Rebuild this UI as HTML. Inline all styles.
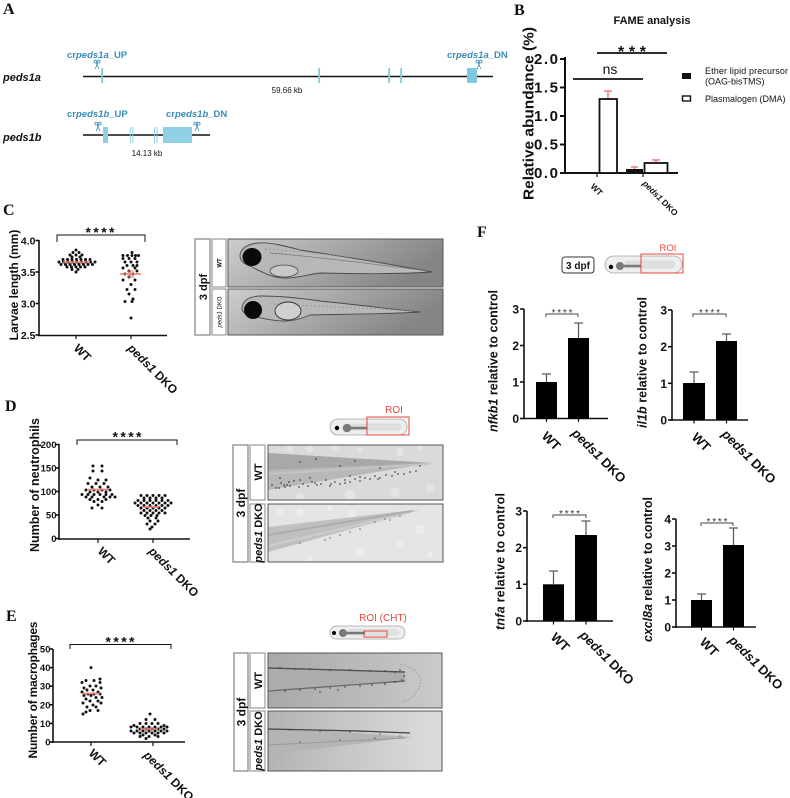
<!DOCTYPE html>
<html><head><meta charset="utf-8">
<style>
html,body{margin:0;padding:0;background:#fff;width:790px;height:798px;overflow:hidden}
svg{display:block}
text{font-family:"Liberation Sans",Arial,sans-serif;fill:#111}
.b{font-weight:bold}
.it{font-style:italic}
.L{font-family:"Liberation Serif",serif;font-weight:bold;font-size:16px}
.bl{fill:#3a8db6;font-weight:bold;font-size:9.5px}
.rd{fill:#e8453c}
</style></head><body>
<svg width="790" height="798" viewBox="0 0 790 798" xmlns="http://www.w3.org/2000/svg">
<defs>
 <g id="sc" fill="none" stroke="#3a8db6" stroke-width="0.8">
   <circle cx="-1.7" cy="1.6" r="1.4"/><circle cx="1.7" cy="1.6" r="1.4"/>
   <path d="M-0.9 2.8 L2 9 M0.9 2.8 L-2 9"/>
 </g>
 <linearGradient id="gc" x1="0" y1="0" x2="1" y2="0.3">
   <stop offset="0" stop-color="#cdcdcd"/><stop offset="0.5" stop-color="#a9a9a9"/><stop offset="1" stop-color="#858585"/>
 </linearGradient>
 <linearGradient id="ge1" x1="0" y1="0" x2="1" y2="0">
   <stop offset="0" stop-color="#a8a8a8"/><stop offset="0.6" stop-color="#bcbcbc"/><stop offset="1" stop-color="#cbcbcb"/>
 </linearGradient>
 <linearGradient id="ge2" x1="0" y1="0" x2="1" y2="0">
   <stop offset="0" stop-color="#b3b3b3"/><stop offset="0.6" stop-color="#cdcdcd"/><stop offset="1" stop-color="#dcdcdc"/>
 </linearGradient>
</defs>

<!-- Panel letters -->
<text class="L" x="3" y="14">A</text>
<text class="L" x="514" y="15">B</text>
<text class="L" x="3" y="215">C</text>
<text class="L" x="5" y="411">D</text>
<text class="L" x="6" y="621">E</text>
<text class="L" x="477" y="237">F</text>

<!-- ===== Panel A ===== -->
<text x="3" y="81" class="b it" font-size="11">peds1a</text>
<line x1="83" y1="76.5" x2="493" y2="76.5" stroke="#111" stroke-width="1.6"/>
<g fill="#7ec8e0">
 <rect x="101.3" y="68" width="1.8" height="15"/>
 <rect x="318.3" y="68" width="1.8" height="15"/>
 <rect x="388.3" y="68" width="1.8" height="15"/>
 <rect x="400.3" y="68" width="1.8" height="15"/>
 <rect x="467" y="68" width="10" height="15"/>
</g>
<text x="67" y="58" class="bl">cr<tspan class="it">peds1a</tspan>_UP</text>
<text x="447" y="58" class="bl">cr<tspan class="it">peds1a</tspan>_DN</text>
<use href="#sc" x="97" y="60"/>
<use href="#sc" x="479" y="60"/>
<text x="287" y="93" font-size="8" text-anchor="middle">59.66 kb</text>

<text x="3" y="141" class="b it" font-size="11">peds1b</text>
<line x1="83" y1="135" x2="210" y2="135" stroke="#111" stroke-width="1.6"/>
<g fill="#8fd0e4">
 <rect x="103" y="127" width="5" height="16"/>
 <rect x="129.8" y="127" width="1" height="16"/>
 <rect x="132.3" y="127" width="1" height="16"/>
 <rect x="154" y="127" width="1" height="16"/>
 <rect x="156.5" y="127" width="1" height="16"/>
 <rect x="163" y="127" width="29" height="16"/>
</g>
<text x="67" y="117" class="bl">cr<tspan class="it">peds1b</tspan>_UP</text>
<text x="166" y="117" class="bl">cr<tspan class="it">peds1b</tspan>_DN</text>
<use href="#sc" x="98" y="122"/>
<use href="#sc" x="197" y="122"/>
<text x="147" y="156" font-size="8" text-anchor="middle">14.13 kb</text>

<!-- ===== Panel B ===== -->
<text x="652" y="24" class="b" font-size="11" text-anchor="middle">FAME analysis</text>
<text transform="translate(533.5,113.5) rotate(-90)" class="b" font-size="15" text-anchor="middle" textLength="173" lengthAdjust="spacingAndGlyphs">Relative abundance (%)</text>
<g stroke="#111" stroke-width="2">
 <line x1="565" y1="57" x2="565" y2="174"/>
 <line x1="564" y1="173" x2="678" y2="173"/>
 <line x1="560" y1="59" x2="565" y2="59"/>
 <line x1="560" y1="87.5" x2="565" y2="87.5"/>
 <line x1="560" y1="116" x2="565" y2="116"/>
 <line x1="560" y1="144.5" x2="565" y2="144.5"/>
 <line x1="560" y1="173" x2="565" y2="173"/>
 <line x1="597" y1="173" x2="597" y2="177" stroke-width="1.2"/>
 <line x1="643" y1="173" x2="643" y2="177" stroke-width="1.2"/>
</g>
<g class="b" font-size="15" text-anchor="end">
 <text x="558" y="64" textLength="24">2.0</text>
 <text x="558" y="92.5" textLength="24">1.5</text>
 <text x="558" y="121" textLength="24">1.0</text>
 <text x="558" y="149.5" textLength="24">0.5</text>
 <text x="558" y="178" textLength="24">0.0</text>
</g>
<g stroke="#e4716b" stroke-width="1.3">
 <line x1="608" y1="91" x2="608" y2="99"/><line x1="604" y1="91" x2="612" y2="91"/>
 <line x1="634.5" y1="167" x2="634.5" y2="169"/><line x1="631" y1="167" x2="638" y2="167"/>
 <line x1="656" y1="160" x2="656" y2="163"/><line x1="652" y1="160" x2="660" y2="160"/>
</g>
<rect x="599.5" y="99" width="17.5" height="74" fill="#fff" stroke="#111" stroke-width="1.8"/>
<rect x="626" y="169" width="17" height="4" fill="#111"/>
<rect x="644.5" y="163" width="23" height="10" fill="#fff" stroke="#111" stroke-width="1.8"/>
<line x1="597" y1="53" x2="667" y2="53" stroke="#111" stroke-width="1.8"/>
<text x="632" y="57" class="b" font-size="16" text-anchor="middle" textLength="28">***</text>
<line x1="573" y1="79" x2="643" y2="79" stroke="#111" stroke-width="1.8"/>
<text x="610" y="74" font-size="14" text-anchor="middle">ns</text>
<rect x="682" y="73" width="9" height="6" fill="#111"/>
<text x="705" y="74" font-size="9" textLength="83">Ether lipid precursor</text>
<text x="705" y="84.5" font-size="9">(OAG-bisTMS)</text>
<rect x="682.5" y="96" width="8" height="5" fill="#fff" stroke="#111" stroke-width="1.4"/>
<text x="705" y="102" font-size="9">Plasmalogen (DMA)</text>
<text transform="translate(590,187) rotate(45)" class="b" font-size="8.5">WT</text>
<text transform="translate(642,184) rotate(45)" class="b" font-size="8.5"><tspan class="it">peds1</tspan> DKO</text>

<!-- ===== Panel C plot ===== -->
<text transform="translate(18,285) rotate(-90)" class="b" font-size="12" text-anchor="middle">Larvae length (mm)</text>
<g stroke="#111" stroke-width="1.6">
 <line x1="39" y1="240" x2="39" y2="336"/>
 <line x1="38" y1="335.5" x2="167" y2="335.5"/>
 <line x1="35.5" y1="240.5" x2="39" y2="240.5"/>
 <line x1="35.5" y1="272" x2="39" y2="272"/>
 <line x1="35.5" y1="303.5" x2="39" y2="303.5"/>
 <line x1="35.5" y1="335" x2="39" y2="335"/>
 <line x1="76" y1="335" x2="76" y2="339" stroke-width="1.2"/>
 <line x1="131" y1="335" x2="131" y2="339" stroke-width="1.2"/>
</g>
<g class="b" font-size="10.5" text-anchor="end">
 <text x="35.5" y="244.5">4.0</text><text x="35.5" y="276">3.5</text><text x="35.5" y="307.5">3.0</text><text x="35.5" y="339">2.5</text>
</g>
<path d="M57 242V235H145V242" fill="none" stroke="#111" stroke-width="1"/>
<text x="100" y="237" class="b" font-size="14" text-anchor="middle" textLength="29">****</text>
<path stroke="#111" stroke-width="3" stroke-linecap="round" fill="none" d="
M76 250h0M73 252.5h0M79 252.5h0M70 255h0M76 255h0M82 255h0M72 257h0M80 257h0
M63 259.5h0M67.5 259.5h0M72 259.5h0M76.5 259.5h0M81 259.5h0M85.5 259.5h0M90 259.5h0
M59 262h0M63.5 262h0M68 262h0M72.5 262h0M77 262h0M81.5 262h0M86 262h0M90.5 262h0M95 262h0
M61 264.5h0M65.5 264.5h0M70 264.5h0M74.5 264.5h0M79 264.5h0M83.5 264.5h0M88 264.5h0M92.5 264.5h0
M67 267h0M71.5 267h0M76 267h0M80.5 267h0M85 267h0M72 269.5h0M78 269.5h0M76 272h0
M132 252.5h0M123 255.5h0M127.5 255.5h0M132 255.5h0M135.5 255.5h0M138.5 255.5h0
M123 258.5h0M129 258.5h0M135 258.5h0M125 262h0M131 262h0M137 262h0
M127 265.5h0M133 265.5h0M137 265.5h0M123 268h0M135 268h0M129 271h0M137 271h0
M125 274h0M133 274h0M129 277h0M123 280h0M135 280h0M131 284.5h0
M127 289.5h0M135 289.5h0M129 294h0M125 301.5h0M132 301.5h0M133 299h0M131 318h0"/>
<g stroke="#f07a72" stroke-width="1.5">
 <line x1="63" y1="262" x2="90" y2="262"/>
 <line x1="120" y1="274" x2="141" y2="274"/>
 <line x1="130.5" y1="271" x2="130.5" y2="277" stroke-width="1"/>
 <line x1="127" y1="271" x2="134" y2="271" stroke-width="1"/>
 <line x1="127" y1="277" x2="134" y2="277" stroke-width="1"/>
</g>
<text transform="translate(73,349) rotate(45)" class="b" font-size="12">WT</text>
<text transform="translate(127,349) rotate(45)" class="b" font-size="12"><tspan class="it">peds1</tspan> DKO</text>

<!-- ===== Panel C image ===== -->
<rect x="195" y="239" width="15" height="96" fill="#fff" stroke="#9a9a9a" stroke-width="1.5"/>
<text transform="translate(207,287) rotate(-90)" class="b" font-size="11" text-anchor="middle">3 dpf</text>
<rect x="212" y="239" width="14" height="48" fill="#fff" stroke="#9a9a9a" stroke-width="1.2"/>
<rect x="212" y="289" width="14" height="46" fill="#fff" stroke="#9a9a9a" stroke-width="1.2"/>
<text transform="translate(221.5,263) rotate(-90)" class="b" font-size="6" text-anchor="middle">WT</text>
<text transform="translate(221.5,312) rotate(-90)" font-size="6" text-anchor="middle"><tspan class="it">peds1</tspan> DKO</text>
<rect x="228" y="239" width="215" height="48" fill="url(#gc)" stroke="#555" stroke-width="1"/>
<rect x="228" y="289" width="215" height="46" fill="url(#gc)" stroke="#555" stroke-width="1"/>
<path d="M240,256 C240,249 247,244 258,243 C270,242 285,246 300,250 C340,256 390,264 432,272 C400,274 360,274 320,273 C305,275 298,278 285,278 C272,278 262,272 252,267 C244,264 240,261 240,256 Z" fill="#b8b8b8" stroke="#4a4a4a" stroke-width="0.9"/>
<path d="M270,253 C320,257 380,265 428,271" fill="none" stroke="#777" stroke-width="0.7"/>
<path d="M265,249 C320,252 380,261 428,269" fill="none" stroke="#888" stroke-width="0.6" stroke-dasharray="2 2"/>
<ellipse cx="284" cy="271" rx="14" ry="6" fill="#c8c8c8" stroke="#444" stroke-width="0.8"/>
<ellipse cx="252" cy="257" rx="9.5" ry="9" fill="#0a0a0a"/>
<path d="M242,309 C242,300 250,296 262,296 C280,296 300,298 320,301 C360,305 390,309 420,312 C390,314 350,314 310,315 C300,319 294,321 285,321 C272,321 262,318 252,316 C245,314 242,312 242,309 Z" fill="#b8b8b8" stroke="#4a4a4a" stroke-width="0.9"/>
<path d="M270,304 C320,306 380,309 416,311" fill="none" stroke="#888" stroke-width="0.6" stroke-dasharray="2 2"/>
<ellipse cx="288" cy="311" rx="13" ry="9" fill="#d0d0d0" stroke="#333" stroke-width="0.9"/>
<ellipse cx="253" cy="310" rx="9" ry="9" fill="#0a0a0a"/>

<!-- ===== Panel D plot ===== -->
<text transform="translate(39,485) rotate(-90)" class="b" font-size="12.5" text-anchor="middle" textLength="134">Number of neutrophils</text>
<g stroke="#111" stroke-width="1.6">
 <line x1="59" y1="444" x2="59" y2="540"/>
 <line x1="58" y1="539" x2="190" y2="539"/>
 <line x1="56" y1="444.5" x2="59" y2="444.5"/>
 <line x1="56" y1="468" x2="59" y2="468"/>
 <line x1="56" y1="491.5" x2="59" y2="491.5"/>
 <line x1="56" y1="515" x2="59" y2="515"/>
 <line x1="56" y1="538.5" x2="59" y2="538.5"/>
 <line x1="98" y1="539" x2="98" y2="543" stroke-width="1.2"/>
 <line x1="153" y1="539" x2="153" y2="543" stroke-width="1.2"/>
</g>
<g class="b" font-size="9.5" text-anchor="end">
 <text x="56.5" y="448">200</text><text x="56.5" y="471.5">150</text><text x="56.5" y="495">100</text><text x="56.5" y="518.5">50</text><text x="56.5" y="542">0</text>
</g>
<path d="M77 445V440H177V445" fill="none" stroke="#111" stroke-width="1"/>
<text x="127" y="441.5" class="b" font-size="14" text-anchor="middle" textLength="29">****</text>
<path stroke="#111" stroke-width="3" stroke-linecap="round" fill="none" d="
M93 466h0M102 466h0M93 471h0M102 471h0M90 478h0M98 480h0M106 480h0
M88 483.5h0M96 483.5h0M104 483.5h0M92 487h0M100 487h0M108 487h0
M86 490h0M94 490h0M102 490h0M110 490h0M90 492h0M98 492h0M106 492h0
M82 494.5h0M88 494.5h0M94 494.5h0M100 494.5h0M106 494.5h0M112 494.5h0
M86 497h0M92 497h0M104 497h0M110 497h0M115 497h0M90 499.5h0M98 499.5h0M106 499.5h0
M94 501.5h0M102 501.5h0M98 505h0M92 508h0M102 508h0
M141 495.5h0M147 495.5h0M153 495.5h0M159 495.5h0M165 495.5h0
M144 498h0M150 498h0M156 498h0M162 498h0
M138 500.5h0M144 500.5h0M150 500.5h0M156 500.5h0M162 500.5h0M168 500.5h0
M135 503h0M141 503h0M147 503h0M153 503h0M159 503h0M165 503h0M171 503h0
M138 505.5h0M144 505.5h0M150 505.5h0M156 505.5h0M162 505.5h0M168 505.5h0
M141 508h0M147 508h0M153 508h0M159 508h0M165 508h0
M144 510.5h0M150 510.5h0M156 510.5h0M162 510.5h0
M141 513h0M147 513h0M153 513h0M159 513h0M165 513h0
M145 515.5h0M151 515.5h0M157 515.5h0M148 518h0M156 518h0
M150 521h0M158 521h0M147 524h0M155 524h0M152 527h0M150 529h0"/>
<g stroke="#f07a72" stroke-width="1.5">
 <line x1="88" y1="489.5" x2="108" y2="489.5"/>
 <line x1="142" y1="507" x2="159" y2="507"/>
</g>
<text transform="translate(97,552) rotate(45)" class="b" font-size="12">WT</text>
<text transform="translate(148,552) rotate(45)" class="b" font-size="12"><tspan class="it">peds1</tspan> DKO</text>

<!-- ===== Panel D image ===== -->
<rect x="330" y="419" width="77" height="16" rx="8" fill="#eeeeee" stroke="#a5a5a5" stroke-width="0.8"/>
<path d="M350 424H398Q404 427 398 430H350" fill="#e0e0e0" stroke="#bbb" stroke-width="0.5" stroke-dasharray="1.5 1"/>
<line x1="347" y1="428" x2="367" y2="428" stroke="#777" stroke-width="2.6"/>
<circle cx="347" cy="428" r="4.3" fill="#7a7a7a"/>
<circle cx="337" cy="428" r="2.2" fill="#000"/>
<rect x="367" y="417" width="42" height="18" fill="none" stroke="#e8453c" stroke-width="1"/>
<text x="394" y="413" class="rd" font-size="10" text-anchor="middle">ROI</text>

<rect x="233" y="445" width="15" height="117" fill="#fff" stroke="#9a9a9a" stroke-width="1.5"/>
<text transform="translate(245,503) rotate(-90)" class="b" font-size="12" text-anchor="middle">3 dpf</text>
<rect x="250" y="445" width="15" height="55" fill="#fff" stroke="#9a9a9a" stroke-width="1.2"/>
<rect x="250" y="504" width="15" height="58" fill="#fff" stroke="#9a9a9a" stroke-width="1.2"/>
<text transform="translate(262,472) rotate(-90)" class="b" font-size="11" text-anchor="middle">WT</text>
<text transform="translate(262,533) rotate(-90)" class="b" font-size="11" text-anchor="middle"><tspan class="it">peds1</tspan> DKO</text>
<svg x="268" y="445" width="175" height="55" viewBox="268 445 175 55">
 <rect x="268" y="445" width="175" height="55" fill="#dadada"/>
 <g fill="#e4e4e4"><circle cx="290" cy="448" r="4"/><circle cx="310" cy="449" r="3.5"/><circle cx="335" cy="447" r="4"/><circle cx="360" cy="450" r="3"/><circle cx="400" cy="452" r="4"/><circle cx="420" cy="448" r="3"/><circle cx="300" cy="497" r="4"/><circle cx="350" cy="495" r="5"/><circle cx="395" cy="492" r="5"/><circle cx="430" cy="488" r="4"/></g>
 <path d="M268 453L432 463L268 490Z" fill="#b8b8b8"/>
 <path d="M268 453L432 463L268 470Z" fill="#a8a8a8"/>
 <path d="M268 474L430 464" stroke="#c4c4c4" stroke-width="2"/>
 <path stroke="#2a2a2a" stroke-width="1.8" stroke-linecap="round" stroke-opacity="0.8" d="M272 485h0M276 488h0M281 483h0M285 487h0M290 486h0M294 481h0M299 487h0M303 484h0M308 486h0M312 482h0M317 485h0M321 484h0M326 480h0M331 484h0M335 482h0M340 484h0M345 480h0M350 482h0M355 479h0M360 481h0M365 478h0M370 479h0M375 476h0M380 478h0M386 475h0M392 476h0M398 474h0M404 474h0M410 472h0M416 471h0M279 488h0M289 482h0M300 480h0M315 483h0M330 486h0M345 483h0M360 477h0M378 479h0M395 472h0M280 478h0M310 478h0M350 476h0M300 462h0M340 466h0M380 468h0M420 466h0M316 459h0M355 461h0M284 485h0M287 485h0"/>
</svg>
<rect x="268" y="445" width="175" height="55" fill="none" stroke="#555" stroke-width="1"/>
<svg x="268" y="504" width="175" height="58" viewBox="268 504 175 58">
 <rect x="268" y="504" width="175" height="58" fill="#e4e4e4"/>
 <g fill="#ececec"><circle cx="300" cy="512" r="4"/><circle cx="330" cy="508" r="3"/><circle cx="352" cy="514" r="4"/><circle cx="420" cy="530" r="5"/><circle cx="400" cy="545" r="4"/><circle cx="360" cy="552" r="5"/><circle cx="430" cy="555" r="3"/><circle cx="310" cy="558" r="3"/><circle cx="280" cy="512" r="3"/></g>
 <path d="M268 527L405 511L420 510L268 552Z" fill="#c0c0c0"/>
 <path d="M268 535L412 511" stroke="#adadad" stroke-width="2"/>
 <path d="M268 546L405 514" stroke="#cdcdcd" stroke-width="2"/>
 <path stroke="#333" stroke-width="1.5" stroke-linecap="round" stroke-opacity="0.7" d="M300 543h0M330 538h0M360 529h0M390 520h0M375 522h0M340 535h0M400 516h0M350 532h0M385 519h0M325 540h0"/>
</svg>
<rect x="268" y="504" width="175" height="58" fill="none" stroke="#555" stroke-width="1"/>

<!-- ===== Panel E plot ===== -->
<text transform="translate(37,690) rotate(-90)" class="b" font-size="12" text-anchor="middle" textLength="137">Number of macrophages</text>
<g stroke="#111" stroke-width="1.6">
 <line x1="53" y1="649" x2="53" y2="743"/>
 <line x1="52" y1="742" x2="185" y2="742"/>
 <line x1="50" y1="649" x2="53" y2="649"/>
 <line x1="50" y1="667.6" x2="53" y2="667.6"/>
 <line x1="50" y1="686.2" x2="53" y2="686.2"/>
 <line x1="50" y1="704.8" x2="53" y2="704.8"/>
 <line x1="50" y1="723.4" x2="53" y2="723.4"/>
 <line x1="50" y1="742" x2="53" y2="742"/>
 <line x1="91" y1="742" x2="91" y2="746" stroke-width="1.2"/>
 <line x1="153" y1="742" x2="153" y2="746" stroke-width="1.2"/>
</g>
<g class="b" font-size="9.5" text-anchor="end">
 <text x="50.5" y="652.5">50</text><text x="50.5" y="671">40</text><text x="50.5" y="689.7">30</text><text x="50.5" y="708.3">20</text><text x="50.5" y="727">10</text><text x="50.5" y="745.5">0</text>
</g>
<path d="M70 649V644.5H171V649" fill="none" stroke="#111" stroke-width="1"/>
<text x="120" y="646.5" class="b" font-size="14" text-anchor="middle" textLength="29">****</text>
<path stroke="#111" stroke-width="3" stroke-linecap="round" fill="none" d="
M91 667.6h0M100 679h0M86 680.5h0M94 680.5h0M82 682.5h0M100 682.5h0M90 686h0M96 686h0
M84 688h0M101 688h0M87 690h0M93 690h0M82 692h0M98 692h0M88 694h0M94 694h0M100 694h0
M84 695.5h0M91 695.5h0M96 697.5h0M102 697.5h0M86 699h0M90 701h0M98 701h0M83 703h0M101 703h0
M93 705h0M87 707h0M96 707h0M90 710.5h0M98 710.5h0M86 712h0M83 714h0
M150 714h0M146 719.5h0M155 719.5h0M140 723.5h0M146 723.5h0M152 723.5h0M158 723.5h0
M134 725.5h0M164 725.5h0M131 727h0M137 727h0M143 727h0M149 727h0M155 727h0M161 727h0M167 727h0
M140 729h0M146 729h0M152 729h0M158 729h0M164 729h0
M131 731h0M137 731h0M143 731h0M149 731h0M155 731h0M161 731h0M167 731h0
M134 733h0M140 733h0M146 733h0M152 733h0M158 733h0M164 733h0
M143 735h0M155 735h0M140 736.5h0M149 736.5h0M158 736.5h0M146 738.5h0"/>
<g stroke="#f07a72" stroke-width="1.5">
 <line x1="82" y1="693.5" x2="100" y2="693.5"/>
 <line x1="140" y1="729" x2="158" y2="729"/>
</g>
<text transform="translate(88,754) rotate(45)" class="b" font-size="12">WT</text>
<text transform="translate(143,756) rotate(45)" class="b" font-size="12"><tspan class="it">peds1</tspan> DKO</text>

<!-- ===== Panel E image ===== -->
<rect x="330" y="626" width="75" height="13" rx="6.5" fill="#eeeeee" stroke="#a5a5a5" stroke-width="0.8"/>
<path d="M348 629.5H396Q402 632 396 635H348" fill="#e2e2e2" stroke="#bbb" stroke-width="0.5" stroke-dasharray="1.5 1"/>
<line x1="343" y1="633" x2="365" y2="633" stroke="#777" stroke-width="2.4"/>
<circle cx="343" cy="633" r="4" fill="#7a7a7a"/>
<circle cx="334" cy="633" r="2" fill="#000"/>
<rect x="364" y="631" width="23" height="6" fill="none" stroke="#e8453c" stroke-width="1"/>
<text x="383" y="621" class="rd" font-size="10" text-anchor="middle">ROI (CHT)</text>

<rect x="234" y="653" width="14" height="118" fill="#fff" stroke="#9a9a9a" stroke-width="1.5"/>
<text transform="translate(245.5,712) rotate(-90)" class="b" font-size="12" text-anchor="middle">3 dpf</text>
<rect x="250" y="653" width="15" height="55" fill="#fff" stroke="#9a9a9a" stroke-width="1.2"/>
<rect x="250" y="711" width="15" height="60" fill="#fff" stroke="#9a9a9a" stroke-width="1.2"/>
<text transform="translate(262,680.5) rotate(-90)" class="b" font-size="11" text-anchor="middle">WT</text>
<text transform="translate(262,741) rotate(-90)" class="b" font-size="11" text-anchor="middle"><tspan class="it">peds1</tspan> DKO</text>
<svg x="268" y="653" width="174" height="55" viewBox="268 653 174 55">
 <rect x="268" y="653" width="174" height="55" fill="url(#ge1)"/>
 <path d="M268 668L405 672L405 682L268 692Z" fill="#adadad"/>
 <path d="M268 668L405 672" stroke="#555" stroke-width="1.4"/>
 <path d="M268 691L405 681" stroke="#666" stroke-width="1.2"/>
 <path d="M400 664Q428 672 418 690Q412 700 402 702" fill="none" stroke="#888" stroke-width="0.6" stroke-dasharray="1.5 1.5"/>
 <path stroke="#333" stroke-width="1.7" stroke-linecap="round" stroke-opacity="0.8" d="M280 668h0M295 669h0M310 669h0M330 670h0M350 670h0M370 671h0M385 671h0M395 672h0M285 691h0M300 690h0M315 689h0M330 688h0M345 687h0M360 686h0M372 685h0M385 684h0M395 682h0M402 680h0M400 670h0M404 676h0M338 690h0M320 692h0"/>
</svg>
<rect x="268" y="653" width="174" height="55" fill="none" stroke="#555" stroke-width="1"/>
<svg x="268" y="711" width="174" height="60" viewBox="268 711 174 60">
 <rect x="268" y="711" width="174" height="60" fill="url(#ge2)"/>
 <path d="M268 727L412 737L268 755Z" fill="#b4b4b4"/>
 <path d="M268 729L360 731L410 733" stroke="#444" stroke-width="1.3"/>
 <path d="M268 745L405 738" stroke="#999" stroke-width="1"/>
 <path stroke="#333" stroke-width="1.6" stroke-linecap="round" stroke-opacity="0.7" d="M290 730h0M320 731h0M350 732h0M380 734h0M300 742h0M340 740h0M375 738h0M400 736h0"/>
</svg>
<rect x="268" y="711" width="174" height="60" fill="none" stroke="#555" stroke-width="1"/>

<!-- ===== Panel F header ===== -->
<rect x="562" y="257" width="32" height="16" rx="3" fill="#fff" stroke="#333" stroke-width="1"/>
<text x="578" y="269" class="b" font-size="10" text-anchor="middle">3 dpf</text>
<rect x="605" y="256" width="77" height="17" rx="8.5" fill="#eeeeee" stroke="#a5a5a5" stroke-width="0.8"/>
<path d="M625 261H672Q678 264.5 672 268H625" fill="#e0e0e0" stroke="#bbb" stroke-width="0.5" stroke-dasharray="1.5 1"/>
<line x1="620" y1="266" x2="641" y2="266" stroke="#777" stroke-width="2.5"/>
<circle cx="620" cy="266" r="4" fill="#7a7a7a"/>
<circle cx="611" cy="267" r="2.2" fill="#000"/>
<rect x="641" y="254" width="42" height="19" fill="none" stroke="#e8453c" stroke-width="1"/>
<text x="668" y="251" class="rd" font-size="9.5" text-anchor="middle">ROI</text>

<!-- F1 nfkb1 -->
<text transform="translate(497.5,361) rotate(-90)" class="b" font-size="12.5" text-anchor="middle" textLength="142"><tspan class="it">nfkb1</tspan> relative to control</text>
<g stroke="#111" stroke-width="1.6">
 <line x1="524" y1="309" x2="524" y2="419"/>
 <line x1="523" y1="418.5" x2="608" y2="418.5"/>
 <line x1="520" y1="309" x2="524" y2="309"/><line x1="520" y1="345.5" x2="524" y2="345.5"/><line x1="520" y1="382" x2="524" y2="382"/><line x1="520" y1="418.5" x2="524" y2="418.5"/>
 <line x1="546.5" y1="418.5" x2="546.5" y2="422" stroke-width="1.2"/><line x1="578.5" y1="418.5" x2="578.5" y2="422" stroke-width="1.2"/>
</g>
<g class="b" font-size="12" text-anchor="end"><text x="519" y="313.5">3</text><text x="519" y="350">2</text><text x="519" y="386.5">1</text><text x="519" y="423">0</text></g>
<g stroke="#555" stroke-width="1.2"><line x1="546.5" y1="374" x2="546.5" y2="382"/><line x1="542" y1="374" x2="551" y2="374"/><line x1="578.5" y1="323" x2="578.5" y2="338"/><line x1="574" y1="323" x2="583" y2="323"/></g>
<rect x="536" y="382" width="21" height="36.5" fill="#000"/>
<rect x="568" y="338" width="21" height="80.5" fill="#000"/>
<path d="M546 317V314H578V317" fill="none" stroke="#444" stroke-width="1"/>
<text x="562" y="316" font-size="10" text-anchor="middle" textLength="21" style="fill:#333">****</text>
<text transform="translate(541,437) rotate(45)" class="b" font-size="13">WT</text>
<text transform="translate(571,434) rotate(45)" class="b" font-size="13"><tspan class="it">peds1</tspan> DKO</text>

<!-- F2 il1b -->
<text transform="translate(646.5,362.5) rotate(-90)" class="b" font-size="12.5" text-anchor="middle" textLength="131"><tspan class="it">il1b</tspan> relative to control</text>
<g stroke="#111" stroke-width="1.6">
 <line x1="672" y1="310" x2="672" y2="421"/>
 <line x1="671" y1="420" x2="748" y2="420"/>
 <line x1="668" y1="310" x2="672" y2="310"/><line x1="668" y1="346.7" x2="672" y2="346.7"/><line x1="668" y1="383.3" x2="672" y2="383.3"/><line x1="668" y1="420" x2="672" y2="420"/>
 <line x1="694" y1="420" x2="694" y2="423.5" stroke-width="1.2"/><line x1="726.5" y1="420" x2="726.5" y2="423.5" stroke-width="1.2"/>
</g>
<g class="b" font-size="12" text-anchor="end"><text x="667" y="314.5">3</text><text x="667" y="351">2</text><text x="667" y="388">1</text><text x="667" y="424.5">0</text></g>
<g stroke="#555" stroke-width="1.2"><line x1="694" y1="372" x2="694" y2="383"/><line x1="689.5" y1="372" x2="698.5" y2="372"/><line x1="726.5" y1="334" x2="726.5" y2="341"/><line x1="722" y1="334" x2="731" y2="334"/></g>
<rect x="683" y="383" width="22" height="37" fill="#000"/>
<rect x="716" y="341" width="21" height="79" fill="#000"/>
<path d="M693 317V314H726V317" fill="none" stroke="#444" stroke-width="1"/>
<text x="709.5" y="316" font-size="10" text-anchor="middle" textLength="21" style="fill:#333">****</text>
<text transform="translate(691,438) rotate(45)" class="b" font-size="13">WT</text>
<text transform="translate(721,435) rotate(45)" class="b" font-size="13"><tspan class="it">peds1</tspan> DKO</text>

<!-- F3 tnfa -->
<text transform="translate(504.5,561.5) rotate(-90)" class="b" font-size="12.5" text-anchor="middle" textLength="137"><tspan class="it">tnfa</tspan> relative to control</text>
<g stroke="#111" stroke-width="1.6">
 <line x1="527" y1="511" x2="527" y2="622"/>
 <line x1="526" y1="621" x2="613" y2="621"/>
 <line x1="523" y1="511" x2="527" y2="511"/><line x1="523" y1="547.7" x2="527" y2="547.7"/><line x1="523" y1="584.3" x2="527" y2="584.3"/><line x1="523" y1="621" x2="527" y2="621"/>
 <line x1="553.5" y1="621" x2="553.5" y2="624.5" stroke-width="1.2"/><line x1="586" y1="621" x2="586" y2="624.5" stroke-width="1.2"/>
</g>
<g class="b" font-size="12" text-anchor="end"><text x="522" y="515.5">3</text><text x="522" y="552">2</text><text x="522" y="589">1</text><text x="522" y="625.5">0</text></g>
<g stroke="#555" stroke-width="1.2"><line x1="553.5" y1="571" x2="553.5" y2="584"/><line x1="549" y1="571" x2="558" y2="571"/><line x1="586" y1="521" x2="586" y2="535"/><line x1="581.5" y1="521" x2="590.5" y2="521"/></g>
<rect x="543" y="584.3" width="21" height="36.7" fill="#000"/>
<rect x="575" y="535" width="22" height="86" fill="#000"/>
<path d="M553 518V515H586V518" fill="none" stroke="#444" stroke-width="1"/>
<text x="569.5" y="517" font-size="10" text-anchor="middle" textLength="21" style="fill:#333">****</text>
<text transform="translate(550,638) rotate(45)" class="b" font-size="13">WT</text>
<text transform="translate(579,636) rotate(45)" class="b" font-size="13"><tspan class="it">peds1</tspan> DKO</text>

<!-- F4 cxcl8a -->
<text transform="translate(652,569.5) rotate(-90)" class="b" font-size="12.5" text-anchor="middle" textLength="145"><tspan class="it">cxcl8a</tspan> relative to control</text>
<g stroke="#111" stroke-width="1.6">
 <line x1="676" y1="519" x2="676" y2="628"/>
 <line x1="675" y1="627" x2="756" y2="627"/>
 <line x1="672" y1="519" x2="676" y2="519"/><line x1="672" y1="546" x2="676" y2="546"/><line x1="672" y1="573" x2="676" y2="573"/><line x1="672" y1="600" x2="676" y2="600"/><line x1="672" y1="627" x2="676" y2="627"/>
 <line x1="701.5" y1="627" x2="701.5" y2="630.5" stroke-width="1.2"/><line x1="733.5" y1="627" x2="733.5" y2="630.5" stroke-width="1.2"/>
</g>
<g class="b" font-size="12" text-anchor="end"><text x="671" y="523.5">4</text><text x="671" y="550.5">3</text><text x="671" y="577.5">2</text><text x="671" y="604.5">1</text><text x="671" y="631.5">0</text></g>
<g stroke="#555" stroke-width="1.2"><line x1="701.5" y1="594" x2="701.5" y2="600"/><line x1="697" y1="594" x2="706" y2="594"/><line x1="733.5" y1="528" x2="733.5" y2="545"/><line x1="729" y1="528" x2="738" y2="528"/></g>
<rect x="691" y="600" width="21" height="27" fill="#000"/>
<rect x="723" y="545" width="21" height="82" fill="#000"/>
<path d="M701 526V523H733V526" fill="none" stroke="#444" stroke-width="1"/>
<text x="717" y="525" font-size="10" text-anchor="middle" textLength="21" style="fill:#333">****</text>
<text transform="translate(699,643) rotate(45)" class="b" font-size="13">WT</text>
<text transform="translate(728,641) rotate(45)" class="b" font-size="13"><tspan class="it">peds1</tspan> DKO</text>
</svg>
</body></html>
